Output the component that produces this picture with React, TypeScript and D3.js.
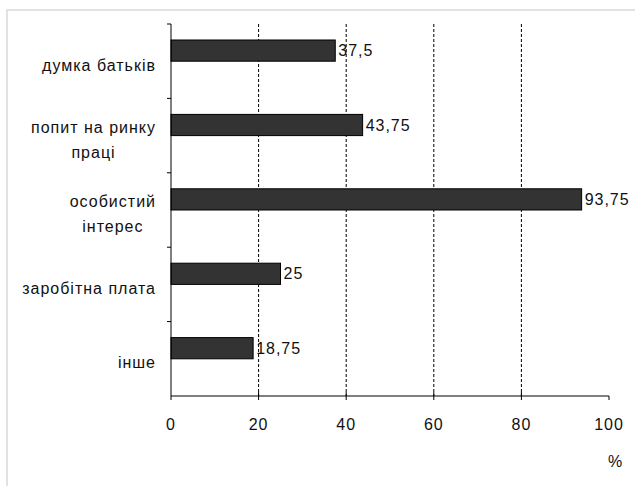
import React from 'react';
import * as d3 from 'd3';

const categories = ['думка батьків', 'попит на ринку праці', 'особистий інтерес', 'заробітна плата', 'інше'];
const categoryLines = [['думка батьків'], ['попит на ринку', 'праці'], ['особистий', 'інтерес'], ['заробітна плата'], ['інше']];
const values = [37.5, 43.75, 93.75, 25, 18.75];
const valueLabels = ['37,5', '43,75', '93,75', '25', '18,75'];
const xTicks = [0, 20, 40, 60, 80, 100];

const W = 635;
const H = 486;
const margin = { top: 24, right: 26, bottom: 90, left: 171 };
const font = '"Liberation Sans", Arial, sans-serif';
const fs = 16;
const ls = 1;

// rough text width with canvas, so wrapped labels can be centred as a block
const measure = (s: string) => {
  const ctx = document.createElement('canvas').getContext('2d');
  if (!ctx) return s.length * 8;
  ctx.font = `${fs}px ${font}`;
  return ctx.measureText(s).width + ls * s.length;
};

const App: React.FC = () => {
  const x = d3.scaleLinear().domain([0, 100]).range([margin.left, W - margin.right]);
  const y = d3.scaleBand<string>().domain(categories).range([margin.top, H - margin.bottom]).paddingInner(0);
  const bw = y.bandwidth();
  const barH = bw * 0.285;
  const axisY = H - margin.bottom;

  return (
    <svg width={W} height={H} style={{ position: 'absolute', left: 0, top: 0, background: '#fff' }}>
      {/* outer frame */}
      <path d={`M7,${H} V10 H${W}`} fill="none" stroke="#d9d9d9" strokeWidth={1.5} />

      {/* grid */}
      {xTicks.filter(t => t > 0 && t < 100).map(t => (
        <line key={t} x1={x(t)} x2={x(t)} y1={margin.top} y2={axisY} stroke="#000" strokeDasharray="3,2" />
      ))}

      {/* bars */}
      {categories.map((c, i) => {
        const cy = (y(c) || 0) + bw / 2;
        return (
          <g key={c}>
            <rect x={x(0)} y={cy - barH} width={x(values[i]) - x(0)} height={barH} fill="#333333" stroke="#000" strokeWidth={1} />
            <text x={x(values[i]) + 3} y={cy - barH / 2} dy="0.35em" fontFamily={font} fontSize={fs} letterSpacing={ls} fill="#111">{valueLabels[i]}</text>
          </g>
        );
      })}

      {/* y axis */}
      <line x1={x(0)} x2={x(0)} y1={margin.top} y2={axisY} stroke="#000" />
      {categories.map(c => (
        <line key={c} x1={x(0) - 4} x2={x(0)} y1={y(c)} y2={y(c)} stroke="#000" />
      ))}
      {categories.map((c, i) => {
        const lines = categoryLines[i];
        const cy = (y(c) || 0) + bw / 2 + 4;
        const lh = 25;
        const maxW = Math.max(...lines.map(measure));
        return (
          <text key={c} fontFamily={font} fontSize={fs} letterSpacing={ls} fill="#111" textAnchor="middle">
            {lines.map((l, j) => (
              <tspan key={j} x={156 - maxW / 2} y={cy + (j - (lines.length - 1) / 2) * lh} dy="0.35em">{l}</tspan>
            ))}
          </text>
        );
      })}

      {/* x axis */}
      <line x1={x(0)} x2={x(100)} y1={axisY} y2={axisY} stroke="#000" />
      {xTicks.map(t => (
        <line key={t} x1={x(t)} x2={x(t)} y1={t === 0 || t === 100 ? axisY : axisY - 4} y2={axisY + 4} stroke="#000" />
      ))}
      {xTicks.map(t => (
        <text key={t} x={x(t)} y={axisY + 28} dy="0.35em" textAnchor="middle" fontFamily={font} fontSize={fs} letterSpacing={ls} fill="#111">{t}</text>
      ))}
      <text x={615} y={461} dy="0.35em" textAnchor="middle" fontFamily={font} fontSize={fs} fill="#111">%</text>
    </svg>
  );
};

export default App;
